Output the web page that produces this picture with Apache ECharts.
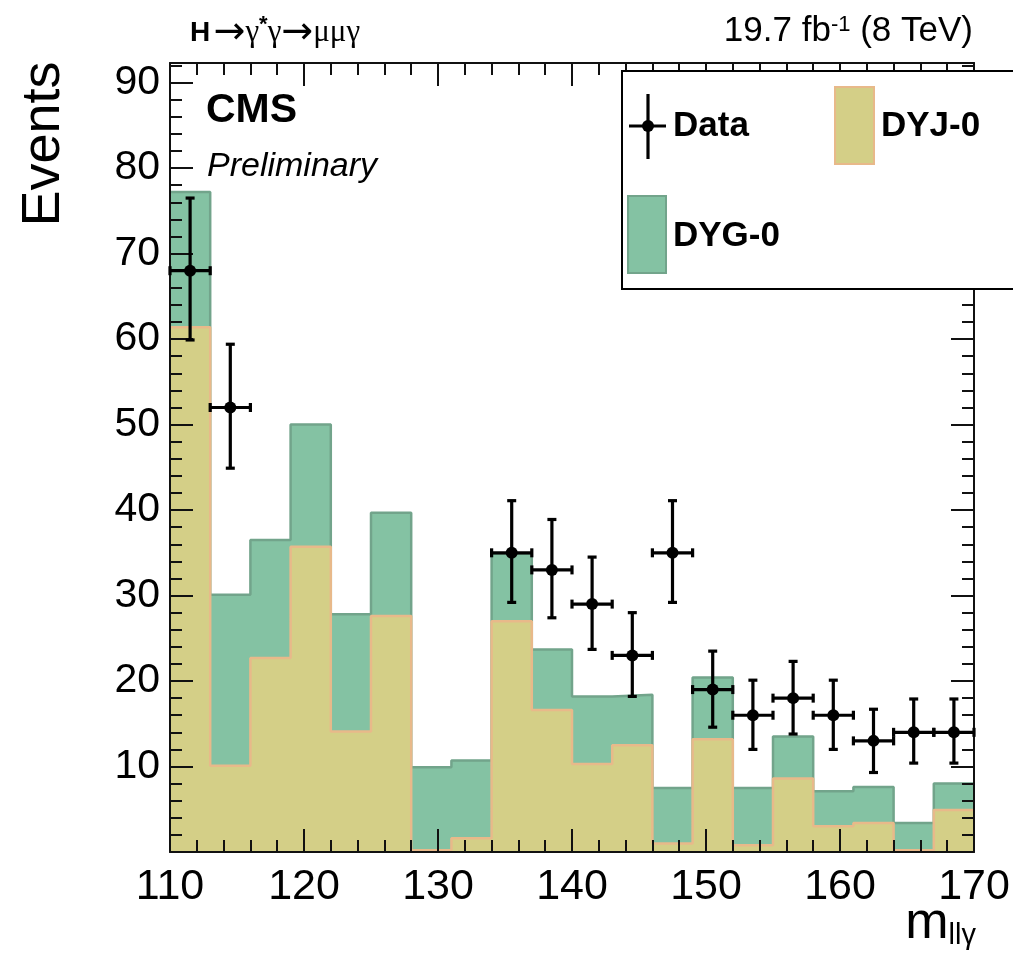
<!DOCTYPE html>
<html>
<head>
<meta charset="utf-8">
<script src="https://cdn.jsdelivr.net/npm/echarts@6/dist/echarts.min.js"></script>
<style>
  html, body { margin: 0; padding: 0; background: #fff; }
  #chart { width: 1013px; height: 960px; }
</style>
</head>
<body>
<div id="chart"></div>
<script>
// ---- data ----
var binEdges = [110, 113, 116, 119, 122, 125, 128, 131, 134, 137, 140, 143, 146, 149, 152, 155, 158, 161, 164, 167, 170];
var dyjValues = [61.4, 10.1, 22.7, 35.7, 14.1, 27.6, 0.2, 1.6, 27.0, 16.6, 10.3, 12.5, 1.0, 13.2, 0.8, 8.6, 3.0, 3.4, 0.2, 4.9];
var dygValues = [15.8, 20.0, 13.8, 14.3, 13.7, 12.1, 9.7, 9.1, 7.9, 7.1, 7.9, 5.9, 6.5, 7.2, 6.7, 4.9, 4.1, 4.2, 3.2, 3.1];
var dataMass = [111.5, 114.5, 135.5, 138.5, 141.5, 144.5, 147.5, 150.5, 153.5, 156.5, 159.5, 162.5, 165.5, 168.5];
var dataCounts = [68, 52, 35, 33, 29, 23, 35, 19, 16, 18, 16, 13, 14, 14];
var dataErrLow = [59.9, 44.9, 29.2, 27.4, 23.7, 18.2, 29.2, 14.6, 12.0, 13.8, 12.0, 9.3, 10.4, 10.4];
var dataErrHigh = [76.5, 59.4, 41.1, 38.9, 34.5, 28.0, 41.1, 23.5, 20.1, 22.3, 20.1, 16.7, 17.9, 17.9];
var xTicks = [110, 120, 130, 140, 150, 160, 170];
var yTicks = [10, 20, 30, 40, 50, 60, 70, 80, 90];

// ---- build series data ----
function stepData(vals) {
  var out = [];
  for (var i = 0; i < vals.length; i++) out.push([binEdges[i], vals[i]]);
  out.push([binEdges[binEdges.length - 1], vals[vals.length - 1]]);
  return out;
}
var totals = dyjValues.map(function (v, i) { return +(v + dygValues[i]).toFixed(2); });
var errData = dataMass.map(function (m, i) { return [m, dataCounts[i], dataErrLow[i], dataErrHigh[i]]; });
var halfBin = (binEdges[1] - binEdges[0]) / 2;

var GREEN = '#84c2a3', GREEN_LINE = '#72a48b';
var YELLOW = '#d4cf87', YELLOW_LINE = '#e8b98a';
var FONT = '"Liberation Sans", Arial, Helvetica, sans-serif';
var SERIF = '"Liberation Serif", "Times New Roman", "DejaVu Serif", serif';

function axisCommon(extra) {
  var base = {
    type: 'value',
    z: 6,
    axisLine: { show: true, onZero: false, lineStyle: { color: '#111', width: 2 } },
    axisTick: { show: true, inside: true, length: 23, lineStyle: { color: '#111', width: 2 } },
    minorTick: { show: true, splitNumber: 5, length: 12, lineStyle: { color: '#111', width: 2 } },
    splitLine: { show: false },
    minorSplitLine: { show: false }
  };
  for (var k in extra) base[k] = extra[k];
  return base;
}

var chart = echarts.init(document.getElementById('chart'), null, { renderer: 'canvas' });
var option = {
  animation: false,
  backgroundColor: '#fff',
  grid: { left: 170, right: 39, top: 63, bottom: 108, containLabel: false },
  xAxis: [
    axisCommon({
      position: 'bottom', min: 110, max: 170, interval: 10,
      axisLabel: {
        show: true, fontSize: 43, fontFamily: FONT, color: '#000', margin: 14,
        formatter: function (v) { return xTicks.indexOf(v) >= 0 ? String(v) : ''; }
      }
    }),
    axisCommon({ position: 'top', min: 110, max: 170, interval: 10, axisLabel: { show: false } })
  ],
  yAxis: [
    axisCommon({
      position: 'left', min: 0, max: 92.3, interval: 10,
      axisLabel: {
        show: true, fontSize: 41, fontFamily: FONT, color: '#000', margin: 10,
        formatter: function (v) { return yTicks.indexOf(v) >= 0 ? String(v) : ''; }
      }
    }),
    axisCommon({ position: 'right', min: 0, max: 92.3, interval: 10, axisLabel: { show: false } })
  ],
  series: [
    {
      name: 'DYG-0', type: 'line', step: 'end', xAxisIndex: 0, yAxisIndex: 0,
      data: stepData(totals), symbol: 'none', z: 2,
      lineStyle: { color: GREEN_LINE, width: 2.5 },
      areaStyle: { color: GREEN, opacity: 1 }
    },
    {
      name: 'DYJ-0', type: 'line', step: 'end', xAxisIndex: 0, yAxisIndex: 0,
      data: stepData(dyjValues), symbol: 'none', z: 3,
      lineStyle: { color: YELLOW_LINE, width: 2.5 },
      areaStyle: { color: YELLOW, opacity: 1 }
    },
    {
      name: 'Data', type: 'custom', xAxisIndex: 0, yAxisIndex: 0, z: 8, clip: false,
      data: errData,
      encode: { x: 0, y: 1 },
      renderItem: function (params, api) {
        var x = api.value(0), y = api.value(1), lo = api.value(2), hi = api.value(3);
        var c = api.coord([x, y]);
        var pLo = api.coord([x, lo]), pHi = api.coord([x, hi]);
        var pL = api.coord([x - halfBin, y]), pR = api.coord([x + halfBin, y]);
        var cap = 4.5;
        var st = { stroke: '#000', lineWidth: 3.2, fill: null };
        return {
          type: 'group',
          children: [
            { type: 'line', shape: { x1: c[0], y1: pLo[1], x2: c[0], y2: pHi[1] }, style: st },
            { type: 'line', shape: { x1: pL[0], y1: c[1], x2: pR[0], y2: c[1] }, style: st },
            { type: 'line', shape: { x1: c[0] - cap, y1: pLo[1], x2: c[0] + cap, y2: pLo[1] }, style: st },
            { type: 'line', shape: { x1: c[0] - cap, y1: pHi[1], x2: c[0] + cap, y2: pHi[1] }, style: st },
            { type: 'line', shape: { x1: pL[0], y1: c[1] - cap, x2: pL[0], y2: c[1] + cap }, style: st },
            { type: 'line', shape: { x1: pR[0], y1: c[1] - cap, x2: pR[0], y2: c[1] + cap }, style: st },
            { type: 'circle', shape: { cx: c[0], cy: c[1], r: 6 }, style: { fill: '#000' } }
          ]
        };
      }
    }
  ],
  graphic: [
    // header texts
    {
      type: 'text', left: 190, top: 14, z: 50,
      style: {
        text: '{h|H} {ar|→}{s|γ}{sup|*}{s|γ}{ar|→}{s|μμγ}',
        rich: {
          h: { fontFamily: FONT, fontWeight: 'bold', fontSize: 28, fill: '#000' },
          ar: { fontFamily: '"DejaVu Sans", sans-serif', fontSize: 38, fill: '#000' },
          s: { fontFamily: SERIF, fontSize: 31, fill: '#000' },
          sup: { fontFamily: FONT, fontWeight: 'bold', fontSize: 22, fill: '#000', verticalAlign: 'top' }
        }
      }
    },
    {
      type: 'text', right: 40, top: 14, z: 50,
      style: {
        text: '{a|19.7 fb}{sup|-1}{a| (8 TeV)}',
        rich: {
          a: { fontFamily: FONT, fontSize: 35, fill: '#000' },
          sup: { fontFamily: FONT, fontSize: 22, fill: '#000', verticalAlign: 'top' }
        }
      }
    },
    {
      type: 'text', left: 206, top: 90, z: 50,
      style: { text: 'CMS', fontFamily: FONT, fontWeight: 'bold', fontSize: 41, fill: '#000' }
    },
    {
      type: 'text', left: 207, top: 150, z: 50,
      style: { text: 'Preliminary', fontFamily: FONT, fontStyle: 'italic', fontSize: 34, fill: '#000' }
    },
    {
      type: 'text', x: 44, y: 144, rotation: Math.PI / 2, z: 50,
      style: { text: 'Events', fontFamily: FONT, fontSize: 54, fill: '#000', align: 'center', verticalAlign: 'middle' }
    },
    {
      type: 'text', right: 37, top: 898, z: 50,
      style: {
        text: '{m|m}{sub|llγ}',
        rich: {
          m: { fontFamily: FONT, fontSize: 52, fill: '#000' },
          sub: { fontFamily: FONT, fontSize: 29, fill: '#000', verticalAlign: 'bottom' }
        }
      }
    },
    // legend box
    {
      type: 'rect', z: 60,
      shape: { x: 622, y: 71, width: 460, height: 218 },
      style: { fill: '#fff', stroke: '#000', lineWidth: 2 }
    },
    { type: 'line', z: 61, shape: { x1: 648, y1: 94, x2: 648, y2: 159 }, style: { stroke: '#000', lineWidth: 3.2 } },
    { type: 'line', z: 61, shape: { x1: 629, y1: 126, x2: 666, y2: 126 }, style: { stroke: '#000', lineWidth: 3.2 } },
    { type: 'circle', z: 61, shape: { cx: 648, cy: 126, r: 6 }, style: { fill: '#000' } },
    {
      type: 'text', z: 61, left: 673, top: 109,
      style: { text: 'Data', fontFamily: FONT, fontWeight: 'bold', fontSize: 35, fill: '#000' }
    },
    {
      type: 'rect', z: 61, shape: { x: 835, y: 87, width: 39, height: 77 },
      style: { fill: YELLOW, stroke: YELLOW_LINE, lineWidth: 2 }
    },
    {
      type: 'text', z: 61, left: 881, top: 109,
      style: { text: 'DYJ-0', fontFamily: FONT, fontWeight: 'bold', fontSize: 35, fill: '#000' }
    },
    {
      type: 'rect', z: 61, shape: { x: 628, y: 196, width: 38, height: 77 },
      style: { fill: GREEN, stroke: GREEN_LINE, lineWidth: 2 }
    },
    {
      type: 'text', z: 61, left: 673, top: 219,
      style: { text: 'DYG-0', fontFamily: FONT, fontWeight: 'bold', fontSize: 35, fill: '#000' }
    }
  ]
};
chart.setOption(option);
</script>
</body>
</html>
